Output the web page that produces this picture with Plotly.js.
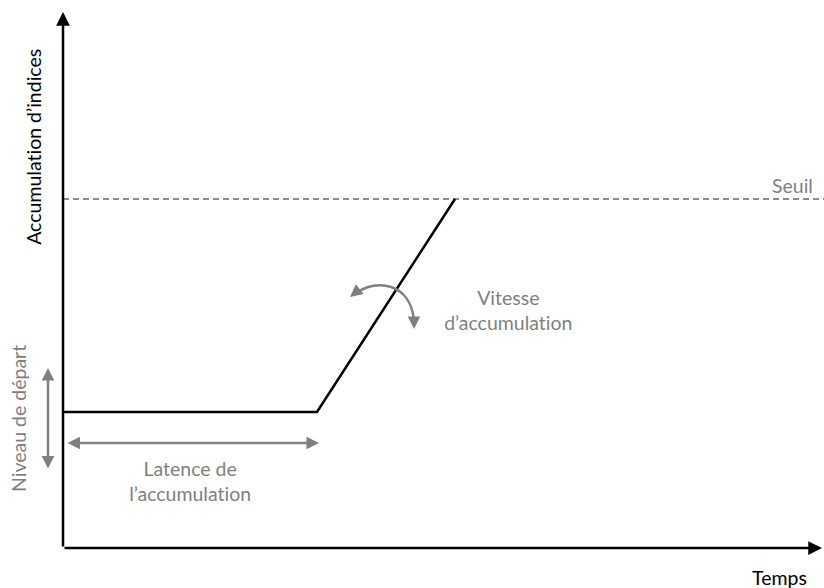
<!DOCTYPE html>
<html>
<head>
<meta charset="utf-8">
<script src="https://cdn.plot.ly/plotly-3.0.1.min.js"></script>
<style>
  html, body { margin: 0; padding: 0; background: #fff; }
  #chart { width: 824px; height: 588px; }
  #chart text { font-variant-ligatures: none; font-feature-settings: "liga" 0, "dlig" 0; }
</style>
</head>
<body>
<div id="chart"></div>
<script>
// Schematic values (units = px offsets from the axis origin)
var curve_x   = [0, 254, 392];
var curve_y   = [136, 136, 349];
var seuil_y   = 349;
var x_max     = 761;
var y_max     = 548;

var gray  = "#7f7f7f";
var font  = "Lato, 'Open Sans', sans-serif";
var fsize = 19.5;

var data = [
    // threshold
    {x: [0, x_max], y: [seuil_y, seuil_y], mode: "lines", type: "scatter",
     line: {color: "#8c8c8c", width: 2.2, dash: "6px,4px"}, hoverinfo: "skip"},
    // accumulation curve
    {x: curve_x, y: curve_y, mode: "lines", type: "scatter",
     line: {color: "#000", width: 2.5}, hoverinfo: "skip"}
];

function label(text, x, y, opts) {
    var a = {text: text, x: x, y: y, xref: "x", yref: "y", showarrow: false,
             font: {family: font, size: fsize, color: gray}};
    for (var k in opts) a[k] = opts[k];
    return a;
}

function arrow(x, y, ax, ay, opts) {
    var a = {x: x, y: y, ax: ax, ay: ay, xref: "x", yref: "y", axref: "x", ayref: "y",
             text: "", showarrow: true, arrowhead: 2, arrowsize: 1,
             arrowwidth: 2.5, arrowcolor: gray};
    for (var k in opts) a[k] = opts[k];
    return a;
}

var annotations = [
    // axes
    arrow(0, 536, 0, 0, {arrowcolor: "#000", arrowwidth: 2.5, arrowsize: 1.1}),
    arrow(759, 0, 0, 0, {arrowcolor: "#000", arrowwidth: 2.5, arrowsize: 1.1}),
    // latency double arrow
    arrow(256, 105, 3, 105, {arrowside: "end+start", arrowwidth: 2.5}),
    // start level double arrow
    arrow(-15, 180, -15, 78, {arrowside: "end+start", arrowwidth: 2.5}),
    // curved arrow heads
    {x: 287, y: 251, ax: 10, ay: -8, xref: "x", yref: "y", text: "", showarrow: true,
     arrowhead: 2, arrowsize: 1, arrowwidth: 2.5, arrowcolor: gray},
    {x: 351, y: 219, ax: 0, ay: -10, xref: "x", yref: "y", text: "", showarrow: true,
     arrowhead: 2, arrowsize: 1, arrowwidth: 2.5, arrowcolor: gray},
    // texts
    label("Accumulation d\u2019indices", -30, 401, {textangle: -90, font: {family: font, size: fsize, color: "#000"}}),
    label("Temps", 716, -29, {font: {family: font, size: fsize, color: "#000"}}),
    label("Seuil", 729, 363),
    label("Vitesse<br>d\u2019accumulation", 445, 238),
    label("Latence de<br>l\u2019accumulation", 127, 67),
    label("Niveau de d\u00e9part", -45, 129, {textangle: -90})
];

var shapes = [
    {type: "path", xref: "x", yref: "y",
     path: "M 292,254 C 312,270 347,266 351,228",
     line: {color: gray, width: 2.5}}
];

var layout = {
    width: 824,
    height: 588,
    margin: {l: 0, r: 0, t: 0, b: 0},
    paper_bgcolor: "#fff",
    plot_bgcolor: "#fff",
    showlegend: false,
    xaxis: {range: [-63, x_max], visible: false, fixedrange: true},
    yaxis: {range: [-40, y_max], visible: false, fixedrange: true},
    annotations: annotations,
    shapes: shapes
};

Plotly.newPlot("chart", data, layout, {displayModeBar: false, staticPlot: true});
</script>
</body>
</html>
